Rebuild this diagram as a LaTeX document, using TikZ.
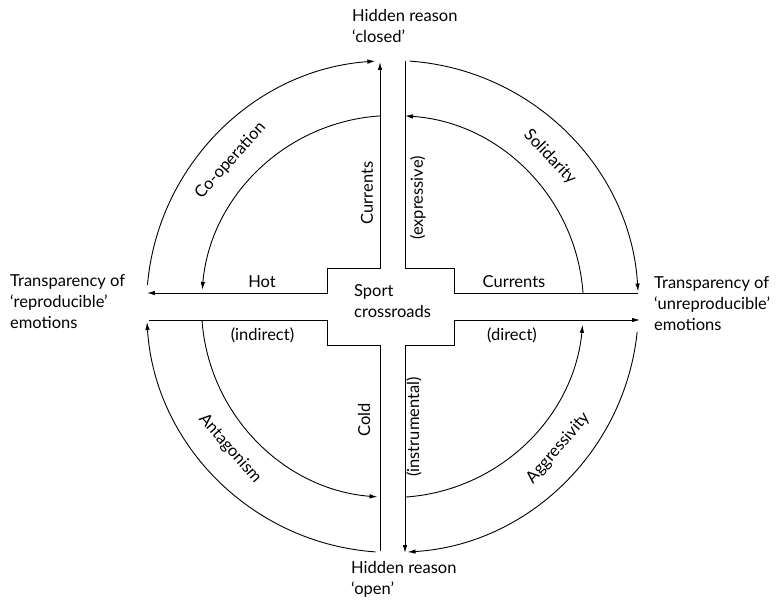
\documentclass[tikz,border=0pt]{standalone}
\usepackage{fontspec}
\setmainfont{Lato}
\usetikzlibrary{arrows.meta}
\begin{document}
\begin{tikzpicture}[x=1pt,y=1pt,
  ln/.style={line width=0.9pt, line join=miter},
  tip/.style={-{Latex[length=8pt,width=4.5pt]}},
  tips/.style={{Latex[length=8pt,width=4.5pt]}-{Latex[length=8pt,width=4.5pt]}},
  lbl/.style={font=\fontsize{16.5}{21}\selectfont, inner sep=0pt},
  blk/.style={font=\fontsize{16.5}{21}\selectfont, inner sep=0pt, align=left, anchor=north west}]
\useasboundingbox (-392.5,-298.5) rectangle (390.5,306.5);
% centre
\node[blk] (ctr) at (-38.5,22.5) {Sport\\crossroads};
% cross coordinates
\coordinate (hotEnd) at (-245.5,13.5);
\coordinate (a1) at (-65.5,13.5);
\coordinate (a2) at (-65.5,38.5);
\coordinate (a3) at (-12.5,38.5);
\coordinate (curTop) at (-12.5,244.5);
\coordinate (expTop) at (12.5,245.5);
\coordinate (b1) at (12.5,38.5);
\coordinate (b2) at (61.5,38.5);
\coordinate (b3) at (61.5,13.5);
\coordinate (curRight) at (245.5,13.5);
\coordinate (instBot) at (12.5,-246.5);
\coordinate (c1) at (12.5,-38.5);
\coordinate (c2) at (61.5,-38.5);
\coordinate (c3) at (61.5,-13.5);
\coordinate (dirEnd) at (247.5,-13.5);
\coordinate (coldBot) at (-12.5,-244.5);
\coordinate (d1) at (-12.5,-38.5);
\coordinate (d2) at (-65.5,-38.5);
\coordinate (d3) at (-65.5,-13.5);
\coordinate (indEnd) at (-243.5,-13.5);
\draw[ln,tips] (hotEnd) -- (a1) -- (a2) -- (a3) -- (curTop);
\draw[ln] (expTop) -- (b1) -- (b2) -- (b3) -- (curRight);
\draw[ln,tips] (instBot) -- (c1) -- (c2) -- (c3) -- (dirEnd);
\draw[ln] (coldBot) -- (d1) -- (d2) -- (d3) -- (indEnd);
% outer arcs (clockwise)
\coordinate (o1) at (175:246);
\coordinate (o2) at (86:246);
\coordinate (o3) at (-6:246);
\coordinate (o4) at (-94:246);
\draw[ln,tip] (o1) arc[start angle=175, end angle=94, radius=246];
\draw[ln,tip] (o2) arc[start angle=86, end angle=3.5, radius=246];
\draw[ln,tip] (o3) arc[start angle=-6, end angle=-86.5, radius=246];
\draw[ln,tip] (o4) arc[start angle=-94, end angle=-176.4, radius=246];
% inner arcs (counter-clockwise)
\coordinate (i1) at (93.75:191);
\coordinate (i2) at (4.05:191);
\coordinate (i3) at (-86.25:191);
\coordinate (i4) at (-175.95:191);
\draw[ln,tip] (i1) arc[start angle=93.75, end angle=175, radius=191];
\draw[ln,tip] (i2) arc[start angle=4.05, end angle=86.25, radius=191];
\draw[ln,tip] (i3) arc[start angle=-86.25, end angle=-5.5, radius=191];
\draw[ln,tip] (i4) arc[start angle=-175.95, end angle=-94.5, radius=191];
% arm labels
\node[lbl, rotate=90] (lcur) at (-25.5,113.5) {Currents};
\node[lbl, rotate=90] (lexp) at (25.5,108.5) {(expressive)};
\node[lbl] (lhot) at (-130.5,24.5) {Hot};
\node[lbl] (lcur2) at (121.5,24.5) {Currents};
\node[lbl] (lind) at (-130,-28.5) {(indirect)};
\node[lbl] (ldir) at (119.5,-28.5) {(direct)};
\node[lbl, rotate=90] (lcold) at (-28.5,-113.5) {Cold};
\node[lbl, rotate=90] (linst) at (21.5,-120.5) {(instrumental)};
% arc labels
\node[lbl, rotate=48] (lcoop) at (138:218) {Co-operation};
\node[lbl, rotate=-46.5] (lsol) at (43.5:217) {Solidarity};
\node[lbl, rotate=-48.8] (lant) at (221.2:216) {Antagonism};
\node[lbl, rotate=49.5] (lagg) at (-40.5:218) {Aggressivity};
% outer texts
\node[blk] (top) at (-40.5,297.5) {Hidden reason\\‘closed’};
\node[blk] (left) at (-382.5,32.5) {Transparency of\\‘reproducible’\\emotions};
\node[blk] (right) at (261.5,30.5) {Transparency of\\‘unreproducible’\\emotions};
\node[blk] (bot) at (-41.5,-254.5) {Hidden reason\\‘open’};
\end{tikzpicture}
\end{document}
